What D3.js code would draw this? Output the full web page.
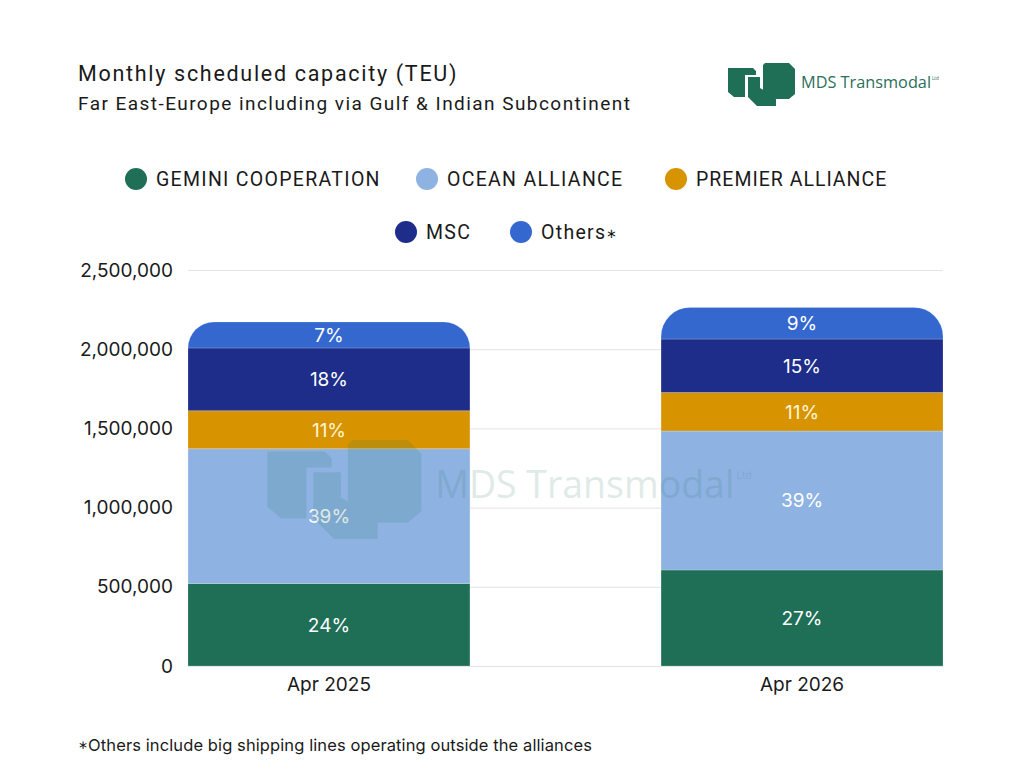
<!DOCTYPE html>
<html>
<head>
<meta charset="utf-8">
<script src="https://cdn.jsdelivr.net/npm/d3@7"></script>
<style>
  body { margin: 0; background: #fff; }
  svg { display: block; }
</style>
</head>
<body>
<div class="chart"></div>
<script>
// data
const categories = ["Apr 2025", "Apr 2026"];
const series = ["GEMINI COOPERATION", "OCEAN ALLIANCE", "PREMIER ALLIANCE", "MSC", "Others"];
const gemini = [521000, 606000];
const ocean = [851000, 877000];
const premier = [240000, 244000];
const msc = [396000, 337000];
const others = [164000, 200000];
const pctLabels = [
    ["24%", "27%"],
    ["39%", "39%"],
    ["11%", "11%"],
    ["18%", "15%"],
    ["7%", "9%"]
];
const yTicks = [0, 500000, 1000000, 1500000, 2000000, 2500000];
const colors = ["#1f6f57", "#8eb3e3", "#d79400", "#1e2c8a", "#3468cf"];

const width = 1024, height = 768;
const margin = {top: 270, right: 81, bottom: 102, left: 188};

const svg = d3.select(".chart")
    .append("svg")
    .attr("width", width)
    .attr("height", height);

// title
svg.append("text")
    .attr("x", 78).attr("y", 81)
    .attr("font-family", "Roboto")
    .attr("font-size", 21.5)
    .attr("letter-spacing", 1.7)
    .attr("fill", "#1a1a1a")
    .text("Monthly scheduled capacity (TEU)");
svg.append("text")
    .attr("x", 78).attr("y", 110)
    .attr("font-family", "Roboto")
    .attr("font-size", 19)
    .attr("letter-spacing", 1.45)
    .attr("fill", "#1a1a1a")
    .text("Far East-Europe including via Gulf & Indian Subcontinent");

// logo: three blocks + name
function drawLogo(g) {
    const pieces = [
        [[1,5],[26,5],[29,8],[29,12],[18,12],[18,34],[7,34],[1,29]],
        [[21,14],[33,14],[33,25],[47,33],[49,36],[49,43],[30,43],[21,34]],
        [[38,0],[62,0],[68,6],[68,31],[62,36],[49,36],[36,28],[36,2]]
    ];
    g.selectAll("polygon")
        .data(pieces)
        .enter()
        .append("polygon")
        .attr("points", d => d.map(p => p.join(",")).join(" "))
        .attr("fill", "#1f6f57");
    g.append("text")
        .attr("x", 74).attr("y", 25)
        .attr("font-family", "Open Sans")
        .attr("font-size", 16.3)
        .attr("fill", "#2b6f5b")
        .text("MDS Transmodal");
    g.append("text")
        .attr("x", 205).attr("y", 17)
        .attr("font-family", "Open Sans")
        .attr("font-size", 4.5)
        .attr("fill", "#2b6f5b")
        .text("Ltd");
}
drawLogo(svg.append("g").attr("transform", "translate(727,63)"));

// legend
const legendRows = [
    [{i: 0, x: 136}, {i: 1, x: 427}, {i: 2, x: 676}],
    [{i: 3, x: 406}, {i: 4, x: 521}]
];
const legendY = [179, 232];
legendRows.forEach(function(row, r) {
    const lg = svg.append("g");
    row.forEach(function(item) {
        lg.append("circle")
            .attr("cx", item.x).attr("cy", legendY[r])
            .attr("r", 11)
            .attr("fill", colors[item.i]);
        const t = lg.append("text")
            .attr("x", item.x + 20).attr("y", legendY[r] + 7)
            .attr("font-family", "Roboto")
            .attr("font-size", 19.5)
            .attr("letter-spacing", item.i === 2 ? 1.0 : 1.3)
            .attr("fill", "#1a1a1a")
            .text(series[item.i]);
        if (item.i === 4) {
            t.append("tspan")
                .attr("font-size", 13)
                .attr("dy", -1)
                .text("∗");
        }
    });
});

const innerW = width - margin.left - margin.right;
const innerH = height - margin.top - margin.bottom;
const g = svg.append("g")
    .attr("transform", "translate(" + margin.left + "," + margin.top + ")");

const xScale = d3.scaleBand()
    .domain(categories)
    .range([0, innerW])
    .paddingInner(0.404)
    .paddingOuter(0);

const yScale = d3.scaleLinear()
    .domain([0, 2500000])
    .range([innerH, 0]);

// gridlines + y labels
const yAxis = g.append("g")
    .call(d3.axisLeft(yScale)
        .tickValues(yTicks)
        .tickSize(-innerW)
        .tickPadding(15)
        .tickFormat(d3.format(",")));
yAxis.select(".domain").remove();
yAxis.selectAll("line").attr("stroke", "#e3e3e3");
yAxis.selectAll("text")
    .attr("font-family", "Inter")
    .attr("font-size", 19)
    .attr("fill", "#1a1a1a");

// x labels
const xAxis = g.append("g")
    .attr("transform", "translate(0," + innerH + ")")
    .call(d3.axisBottom(xScale).tickSize(0).tickPadding(12));
xAxis.select(".domain").remove();
xAxis.selectAll("text")
    .attr("font-family", "Inter")
    .attr("font-size", 19)
    .attr("fill", "#1a1a1a");

// stacked bars
const table = categories.map(function(c, i) {
    return {cat: c, s0: gemini[i], s1: ocean[i], s2: premier[i], s3: msc[i], s4: others[i]};
});
const keys = ["s0", "s1", "s2", "s3", "s4"];
const stacked = d3.stack().keys(keys)(table);

function segPath(x, y0, y1, w, top) {
    const h = y0 - y1;
    if (!top) return "M" + x + "," + y1 + "h" + w + "v" + h + "h" + (-w) + "Z";
    const r = Math.min(29, h);
    return "M" + x + "," + y0 +
        "V" + (y1 + r) +
        "A" + r + "," + r + " 0 0 1 " + (x + r) + "," + y1 +
        "H" + (x + w - r) +
        "A" + r + "," + r + " 0 0 1 " + (x + w) + "," + (y1 + r) +
        "V" + y0 + "Z";
}

stacked.forEach(function(layer, k) {
    const lg = g.append("g").attr("fill", colors[k]);
    lg.selectAll("path")
        .data(layer)
        .enter()
        .append("path")
        .attr("d", d => segPath(xScale(d.data.cat), yScale(d[0]), yScale(d[1]),
            xScale.bandwidth(), k === keys.length - 1))
        .attr("stroke", "rgba(255,255,255,0.25)")
        .attr("stroke-width", 0.8);
});

// watermark over bars
const wm = svg.append("g")
    .attr("transform", "translate(265,440) scale(2.3)")
    .attr("opacity", 0.14);
drawLogo(wm);

// segment labels
stacked.forEach(function(layer, k) {
    g.selectAll(".lbl" + k)
        .data(layer)
        .enter()
        .append("text")
        .attr("class", "lbl" + k)
        .attr("x", d => xScale(d.data.cat) + xScale.bandwidth() / 2)
        .attr("y", d => (yScale(d[0]) + yScale(d[1])) / 2)
        .attr("dy", "0.36em")
        .attr("text-anchor", "middle")
        .attr("font-family", "Inter")
        .attr("font-size", 19)
        .attr("fill", k === 2 ? "#fff6d8" : "#ffffff")
        .text((d, i) => pctLabels[k][i]);
});

// footnote
const foot = svg.append("text")
    .attr("x", 78).attr("y", 751)
    .attr("font-family", "Inter")
    .attr("font-size", 16.5)
    .attr("letter-spacing", 0.1)
    .attr("fill", "#1a1a1a");
foot.append("tspan")
    .attr("font-size", 12)
    .attr("dy", -2)
    .text("∗");
foot.append("tspan")
    .attr("dy", 2)
    .text("Others include big shipping lines operating outside the alliances");
</script>
</body>
</html>
